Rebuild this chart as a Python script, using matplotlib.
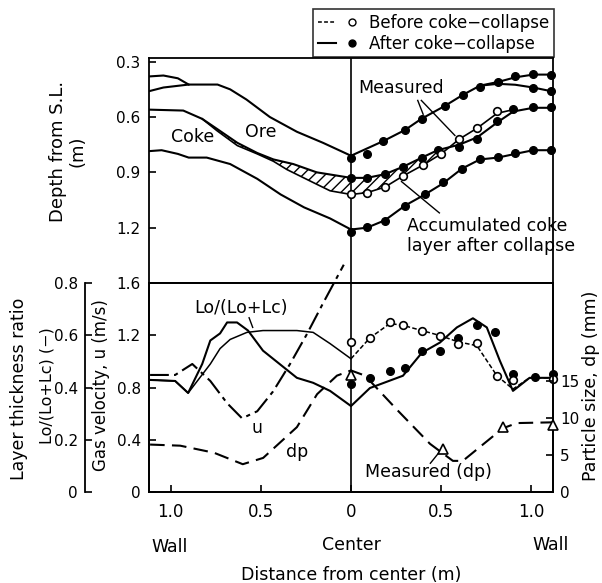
import numpy as np
import matplotlib.pyplot as plt
from matplotlib.lines import Line2D
from matplotlib.legend_handler import HandlerTuple

plt.rcParams['font.family'] = 'DejaVu Sans'
plt.rcParams['hatch.linewidth'] = 1.0

# ---- top panel: layer profiles, depth from stock line (m) ----
# x < 0 is the left half (distance shown as absolute value)
surf_x = [-1.12, -1.04, -0.90, -0.74, -0.67, -0.58, -0.45, -0.30, -0.155, 0,
          0.18, 0.30, 0.39, 0.52, 0.62, 0.715, 0.815, 0.91, 1.01, 1.11]
surf_d = [0.46, 0.44, 0.424, 0.424, 0.45, 0.505, 0.60, 0.68, 0.74, 0.81,
          0.73, 0.67, 0.61, 0.54, 0.48, 0.43, 0.41, 0.385, 0.37, 0.37]
arc_x = [-1.12, -1.04, -0.96, -0.90]
arc_d = [0.38, 0.375, 0.39, 0.424]
wall_x = [0.715, 0.815, 0.91, 1.01, 1.11]
wall_d = [0.43, 0.42, 0.425, 0.44, 0.46]

mid_after_x = [-1.12, -0.93, -0.825, -0.742, -0.63, -0.52, -0.43, -0.32, -0.19, 0,
               0.089, 0.188, 0.288, 0.393, 0.48, 0.60, 0.70, 0.81, 0.90, 1.01, 1.11]
mid_after_d = [0.56, 0.565, 0.61, 0.665, 0.74, 0.795, 0.83, 0.855, 0.90, 0.93,
               0.93, 0.91, 0.87, 0.82, 0.78, 0.75, 0.71, 0.63, 0.57, 0.55, 0.55]
mid_before_x = [-0.825, -0.742, -0.63, -0.52, -0.43, -0.355, -0.21, -0.116, 0,
                0.089, 0.188, 0.288, 0.40, 0.50, 0.60, 0.70, 0.81, 0.90]
mid_before_d = [0.61, 0.675, 0.755, 0.80, 0.84, 0.885, 0.955, 1.0, 1.02,
                1.01, 0.98, 0.92, 0.86, 0.80, 0.72, 0.66, 0.58, 0.56]

low_x = [-1.12, -1.05, -0.96, -0.90, -0.80, -0.67, -0.52, -0.39, -0.26, -0.116, 0,
         0.089, 0.188, 0.30, 0.41, 0.51, 0.615, 0.715, 0.815, 0.91, 1.01, 1.11]
low_d = [0.785, 0.78, 0.80, 0.82, 0.82, 0.855, 0.935, 1.02, 1.09, 1.15, 1.21,
         1.20, 1.16, 1.08, 1.02, 0.96, 0.88, 0.83, 0.82, 0.80, 0.78, 0.78]

# measured points (top panel)
m_surf_x = [0, 0.089, 0.177, 0.30, 0.393, 0.52, 0.62, 0.715, 0.815, 0.91, 1.01, 1.11, 1.01, 1.11]
m_surf_d = [0.82, 0.80, 0.73, 0.67, 0.61, 0.54, 0.48, 0.435, 0.41, 0.38, 0.365, 0.37, 0.44, 0.46]
m_mid_x = [0, 0.089, 0.188, 0.288, 0.393, 0.48, 0.60, 0.70, 0.81, 0.90, 1.01, 1.11]
m_mid_d = [0.93, 0.93, 0.91, 0.87, 0.82, 0.78, 0.76, 0.72, 0.62, 0.555, 0.545, 0.545]
m_mid_open_x = [0, 0.089, 0.188, 0.288, 0.40, 0.50, 0.60, 0.70, 0.81]
m_mid_open_d = [1.02, 1.01, 0.98, 0.92, 0.86, 0.80, 0.72, 0.66, 0.57]
m_low_x = [0, 0.089, 0.188, 0.30, 0.41, 0.51, 0.615, 0.715, 0.815, 0.91, 1.01, 1.11]
m_low_d = [1.225, 1.198, 1.162, 1.08, 1.018, 0.955, 0.884, 0.83, 0.817, 0.794, 0.781, 0.781]

# ---- bottom panel ----
u_x = [-1.114, -0.975, -0.88, -0.78, -0.687, -0.604, -0.52, -0.432, -0.338, -0.244, -0.155, -0.04]
u_val = [0.896, 0.896, 0.98, 0.85, 0.68, 0.564, 0.618, 0.77, 0.98, 1.21, 1.445, 1.74]

ratio_after_x = [-1.114, -0.975, -0.903, -0.825, -0.78, -0.726, -0.687, -0.632, -0.571, -0.488,
                 -0.30, -0.21, -0.116, 0, 0.105, 0.288, 0.393, 0.493, 0.587, 0.676, 0.753,
                 0.825, 0.898, 0.99, 1.12]
ratio_after = [0.429, 0.425, 0.379, 0.49, 0.58, 0.607, 0.649, 0.649, 0.618, 0.541,
               0.437, 0.418, 0.387, 0.329, 0.398, 0.445, 0.533, 0.572, 0.63, 0.665, 0.63,
               0.503, 0.387, 0.437, 0.437]
ratio_before_l_x = [-1.114, -0.975, -0.903, -0.78, -0.726, -0.67, -0.577, -0.488, -0.30, -0.21, -0.116, 0]
ratio_before_l = [0.429, 0.425, 0.379, 0.49, 0.549, 0.584, 0.611, 0.618, 0.618, 0.611, 0.568, 0.51]
ratio_before_r_x = [0, 0.105, 0.216, 0.288, 0.393, 0.493, 0.593, 0.698, 0.809, 0.898, 0.99, 1.12]
ratio_before_r = [0.51, 0.59, 0.645, 0.638, 0.618, 0.599, 0.575, 0.56, 0.445, 0.394, 0.437, 0.437]

m_ratio_after_x = [0, 0.105, 0.216, 0.30, 0.393, 0.493, 0.593, 0.698, 0.798, 0.898, 1.02, 1.12]
m_ratio_after = [0.414, 0.437, 0.464, 0.475, 0.541, 0.541, 0.591, 0.638, 0.611, 0.452, 0.441, 0.452]
m_ratio_before_x = [0, 0.105, 0.216, 0.288, 0.393, 0.493, 0.593, 0.698, 0.809, 0.898, 1.12]
m_ratio_before = [0.576, 0.591, 0.649, 0.638, 0.618, 0.599, 0.568, 0.572, 0.445, 0.429, 0.433]

dp_x = [-1.114, -0.947, -0.76, -0.60, -0.487, -0.30, -0.188, -0.078, 0, 0.078, 0.255,
        0.438, 0.565, 0.62, 0.842, 0.92, 1.12]
dp_val = [6.4, 6.25, 5.3, 3.75, 4.6, 8.75, 13.2, 15.7, 16.4, 15.7, 11.1,
          6.5, 4.2, 4.2, 8.6, 9.3, 9.4]
m_dp_x = [0, 0.51, 0.84, 1.12]
m_dp = [15.8, 5.8, 8.75, 9.0]

W, H = 602.0, 583.0
def box(l, t, r, b):
    return [l / W, 1 - b / H, (r - l) / W, (b - t) / H]

fig = plt.figure(figsize=(6.02, 5.83), dpi=100)
ax_top = fig.add_axes(box(149, 58, 553, 283))
ax_bot = fig.add_axes(box(149, 283, 553, 492))

lw = 1.5
dot = dict(ls='none', marker='o', ms=5.5, mfc='k', mec='k', clip_on=False, zorder=5)
odot = dict(ls='none', marker='o', ms=5.5, mfc='white', mec='k', mew=1.2, clip_on=False, zorder=6)

# top panel
ax_top.plot(surf_x, surf_d, 'k-', lw=lw)
ax_top.plot(arc_x, arc_d, 'k-', lw=lw)
ax_top.plot(wall_x, wall_d, 'k-', lw=lw)
ax_top.plot(mid_after_x, mid_after_d, 'k-', lw=lw)
ax_top.plot(mid_before_x, mid_before_d, 'k-', lw=1.2)
ax_top.plot(low_x, low_d, 'k-', lw=lw)
hx = np.array(mid_before_x)
h_after = np.interp(hx, mid_after_x, mid_after_d)
h_before = np.array(mid_before_d)
ax_top.fill_between(hx, h_after, h_before, where=h_before > h_after, interpolate=True,
                    facecolor='none', edgecolor='k', hatch='///', lw=0)
ax_top.plot(m_surf_x, m_surf_d, **dot)
ax_top.plot(m_mid_x, m_mid_d, **dot)
ax_top.plot(m_low_x, m_low_d, **dot)
ax_top.plot(m_mid_open_x, m_mid_open_d, **odot)

ax_top.set_xlim(-1.12, 1.12)
ax_top.set_ylim(1.5, 0.28)
ax_top.set_yticks([0.3, 0.6, 0.9, 1.2])
ax_top.set_yticklabels(['0.3', '0.6', '0.9', '1.2'])
ax_top.set_xticks([])
ax_top.axvline(0, color='k', lw=1.2)
ax_top.tick_params(axis='y', direction='in', length=5, width=1.2, labelsize=11, pad=6)

ax_top.text(-0.88, 0.71, 'Coke', fontsize=12.5, ha='center', va='center')
ax_top.text(-0.50, 0.68, 'Ore', fontsize=12.5, ha='center', va='center')
ax_top.text(0.28, 0.44, 'Measured', fontsize=12.5, ha='center', va='center')
ax_top.plot([0.37, 0.40], [0.51, 0.585], 'k-', lw=1)
ax_top.plot([0.39, 0.576], [0.51, 0.70], 'k-', lw=1)
ax_top.text(0.31, 1.244, 'Accumulated coke\nlayer after collapse', fontsize=12.5,
            ha='left', va='center', linespacing=1.15, clip_on=False)
ax_top.plot([0.49, 0.28], [1.12, 0.95], 'k-', lw=1)

# bottom panel
ax_bot.plot(u_x, u_val, 'k', lw=lw, ls=(0, (9, 2.5, 2, 2.5)), clip_on=False)
ax_bot.set_xlim(-1.12, 1.12)
ax_bot.set_ylim(0, 1.6)
ax_bot.set_yticks([0, 0.4, 0.8, 1.2, 1.6])
ax_bot.set_yticklabels(['0', '0.4', '0.8', '1.2', '1.6'])
ax_bot.set_xticks([-1, -0.5, 0, 0.5, 1])
ax_bot.set_xticklabels(['1.0', '0.5', '0', '0.5', '1.0'])
ax_bot.axvline(0, color='k', lw=1.2)
ax_bot.tick_params(direction='in', length=5, width=1.2, labelsize=11, pad=6)
ax_bot.tick_params(axis='x', labelsize=12, pad=8)
ax_bot.text(-0.52, 0.49, 'u', fontsize=12.5, ha='center', va='center')
ax_bot.text(-0.30, 0.31, 'dp', fontsize=12.5, ha='center', va='center')
ax_bot.text(0.43, 0.15, 'Measured (dp)', fontsize=12.5, ha='center', va='center')
ax_bot.plot([0.51, 0.44], [0.34, 0.22], 'k-', lw=1)

ax_lo = ax_bot.twinx()
ax_lo.plot(ratio_after_x, ratio_after, 'k-', lw=lw)
ax_lo.plot(ratio_before_l_x, ratio_before_l, 'k-', lw=1.1)
ax_lo.plot(ratio_before_r_x, ratio_before_r, 'k', lw=1.1, ls=(0, (3, 1.5)))
ax_lo.plot(m_ratio_after_x, m_ratio_after, **dot)
ax_lo.plot(m_ratio_before_x, m_ratio_before, **odot)
ax_lo.set_ylim(0, 0.8)
ax_lo.set_yticks([0, 0.2, 0.4, 0.6, 0.8])
ax_lo.set_yticklabels(['0', '0.2', '0.4', '0.6', '0.8'])
ax_lo.yaxis.set_ticks_position('left')
ax_lo.spines['left'].set_position(('axes', (85 - 149) / 404.0))
for s in ['top', 'right', 'bottom']:
    ax_lo.spines[s].set_visible(False)
ax_lo.spines['left'].set_visible(True)
ax_lo.spines['left'].set_linewidth(1.3)
ax_lo.tick_params(axis='y', direction='in', length=5, width=1.2, labelsize=11, pad=5)
ax_lo.text(-0.61, 0.705, 'Lo/(Lo+Lc)', fontsize=12.5, ha='center', va='center')
ax_lo.plot([-0.565, -0.545], [0.667, 0.63], 'k-', lw=1)

ax_dp = ax_bot.twinx()
ax_dp.plot(dp_x, dp_val, 'k', lw=lw, ls=(0, (7, 3.5)))
ax_dp.plot(m_dp_x, m_dp, ls='none', marker='^', ms=7.5, mfc='white', mec='k', mew=1.2,
           clip_on=False, zorder=6)
ax_dp.set_ylim(0, 28.2)
ax_dp.set_yticks([0, 5, 10, 15])
ax_dp.tick_params(axis='y', direction='in', length=5, width=1.2, labelsize=11, pad=5)

for a in (ax_top, ax_bot, ax_dp):
    for s in a.spines.values():
        s.set_linewidth(1.3)

# axis titles
fig.text(58 / W, 1 - 151 / H, 'Depth from S.L.', rotation=90, fontsize=13, ha='center', va='center')
fig.text(78 / W, 1 - 151 / H, '(m)', rotation=90, fontsize=13, ha='center', va='center')
fig.text(19 / W, 1 - 389 / H, 'Layer thickness ratio', rotation=90, fontsize=12.5, ha='center', va='center')
fig.text(47 / W, 1 - 386 / H, 'Lo/(Lo+Lc) (\u2212)', rotation=90, fontsize=11.5, ha='center', va='center')
fig.text(101 / W, 1 - 385 / H, 'Gas velocity, u (m/s)', rotation=90, fontsize=12, ha='center', va='center')
fig.text(591 / W, 1 - 386 / H, 'Particle size, dp (mm)', rotation=90, fontsize=12.5, ha='center', va='center')
fig.text(170 / W, 1 - 547 / H, 'Wall', fontsize=12.5, ha='center', va='center')
fig.text(351 / W, 1 - 545 / H, 'Center', fontsize=12.5, ha='center', va='center')
fig.text(551 / W, 1 - 545 / H, 'Wall', fontsize=12.5, ha='center', va='center')
fig.text(351 / W, 1 - 575 / H, 'Distance from center (m)', fontsize=12.5, ha='center', va='center')

# legend
h_before = (Line2D([], [], color='k', lw=1.1, ls=(0, (2.5, 1.5))),
            Line2D([], [], ls='none', marker='o', ms=5, mfc='white', mec='k'))
h_after = (Line2D([], [], color='k', lw=1.5, ls='-'),
           Line2D([], [], ls='none', marker='o', ms=5, mfc='k', mec='k'))
leg = fig.legend([h_before, h_after], ['Before coke\u2212collapse', 'After coke\u2212collapse'],
                 handler_map={tuple: HandlerTuple(ndivide=None, pad=0.4)},
                 loc='upper left', bbox_to_anchor=(305 / W, 1 - 1 / H), frameon=True,
                 fancybox=False, edgecolor='k', handlelength=2.6, borderpad=0.25,
                 labelspacing=0.2, handletextpad=0.5, fontsize=12)
leg.get_frame().set_linewidth(1.2)

fig.savefig('out.png', dpi=100)
